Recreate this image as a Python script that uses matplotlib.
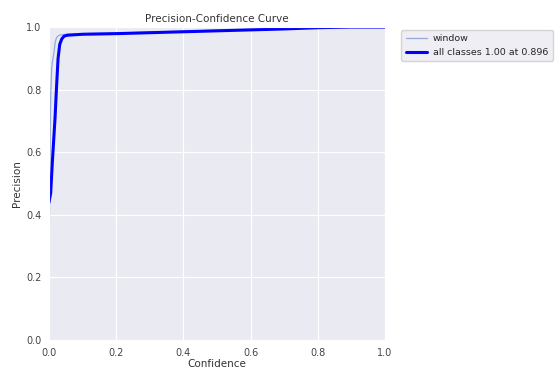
import numpy as np
import matplotlib
matplotlib.use("Agg")
import matplotlib.pyplot as plt
import seaborn as sns

# precision vs confidence
conf_window = [0.0, 0.001, 0.003, 0.005, 0.008, 0.011, 0.015, 0.018, 0.022, 0.027, 0.035, 0.05,
               0.1, 0.2, 0.3, 0.4, 0.5, 0.6, 0.7, 0.8, 0.896, 0.95, 1.0]
prec_window = [0.12, 0.35, 0.6, 0.78, 0.87, 0.895, 0.92, 0.95, 0.965, 0.972, 0.975, 0.977,
               0.979, 0.981, 0.984, 0.987, 0.99, 0.993, 0.996, 0.999, 1.0, 1.0, 1.0]

conf_all = [0.0, 0.005, 0.01, 0.014, 0.018, 0.022, 0.027, 0.032, 0.038, 0.045, 0.055,
            0.1, 0.2, 0.3, 0.4, 0.5, 0.6, 0.7, 0.8, 0.896, 0.95, 1.0]
prec_all = [0.44, 0.47, 0.57, 0.64, 0.71, 0.8, 0.9, 0.945, 0.962, 0.971, 0.974,
            0.977, 0.979, 0.982, 0.985, 0.988, 0.991, 0.994, 0.998, 1.0, 1.0, 1.0]

sns.set_style("darkgrid")
plt.rcParams['font.family'] = ['DejaVu Sans']

fig = plt.figure(figsize=(5.55, 3.76), dpi=100)
ax = fig.add_axes([0.0883, 0.0957, 0.6054, 0.8323])

ax.plot(conf_window, prec_window, linewidth=0.9, color="#94a9d6", label="window")
ax.plot(conf_all, prec_all, linewidth=2.2, color="blue", label="all classes 1.00 at 0.896")

ax.set_xlim(0, 1)
ax.set_ylim(0, 1)
ax.set_xticks(np.arange(0, 1.01, 0.2))
ax.set_yticks(np.arange(0, 1.01, 0.2))
ax.tick_params(labelsize=7, colors="#444444", pad=2)
ax.set_xlabel("Confidence", fontsize=7.5, color="#333333", labelpad=1)
ax.set_ylabel("Precision", fontsize=7.5, color="#333333", labelpad=3)
ax.set_title("Precision-Confidence Curve", fontsize=7.5, color="#333333", pad=4)
ax.legend(bbox_to_anchor=(1.04, 1), loc="upper left", fontsize=6.8, frameon=True,
          handlelength=2.3, handletextpad=0.6, borderaxespad=0.3, borderpad=0.45)

fig.savefig("out.png", dpi=100)
